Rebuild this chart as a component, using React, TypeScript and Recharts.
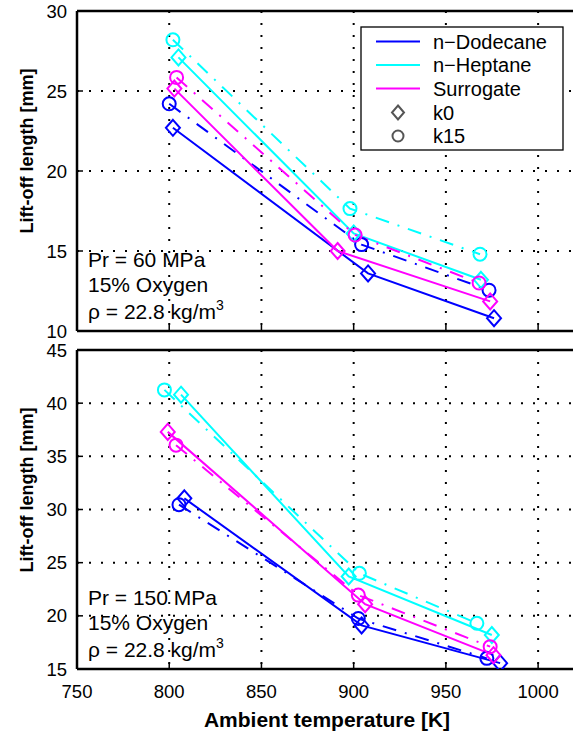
import React from "react";
import { LineChart, Line, XAxis, YAxis, CartesianGrid, ReferenceLine } from "recharts";

const FONT = '"Liberation Sans", Arial, Helvetica, sans-serif';
const BLUE = "#0000ff";
const CYAN = "#00ffff";
const MAGENTA = "#ff00ff";
const GRAY = "#555555";
const DASH_DOT = "14 9 2 9";

const xTicks = [750, 800, 850, 900, 950, 1000];
const topTicks = [10, 15, 20, 25, 30];
const bottomTicks = [15, 20, 25, 30, 35, 40, 45];

// Pr = 60 MPa
const topDodecaneK0 = [{ t: 802, mm: 22.7 }, { t: 907.8, mm: 13.6 }, { t: 976.1, mm: 10.8 }];
const topDodecaneK15 = [{ t: 800, mm: 24.2 }, { t: 904.3, mm: 15.4 }, { t: 973.4, mm: 12.55 }];
const topHeptaneK0 = [{ t: 805, mm: 27.1 }, { t: 900, mm: 16.1 }, { t: 969, mm: 13.2 }];
const topHeptaneK15 = [{ t: 802, mm: 28.2 }, { t: 898, mm: 17.65 }, { t: 968.5, mm: 14.8 }];
const topSurrogateK0 = [{ t: 802.8, mm: 25.15 }, { t: 891.3, mm: 15.0 }, { t: 974, mm: 11.85 }];
const topSurrogateK15 = [{ t: 804, mm: 25.85 }, { t: 900.8, mm: 16.0 }, { t: 968, mm: 13.0 }];

// Pr = 150 MPa
const botDodecaneK0 = [{ t: 808.2, mm: 31.05 }, { t: 904.3, mm: 19.1 }, { t: 979.4, mm: 15.55 }];
const botDodecaneK15 = [{ t: 805.3, mm: 30.45 }, { t: 902.5, mm: 19.75 }, { t: 972.2, mm: 16.0 }];
const botHeptaneK0 = [{ t: 806.4, mm: 40.8 }, { t: 897.3, mm: 23.7 }, { t: 974.9, mm: 18.2 }];
const botHeptaneK15 = [{ t: 797.4, mm: 41.25 }, { t: 903.1, mm: 24.0 }, { t: 966.8, mm: 19.3 }];
const botSurrogateK0 = [{ t: 799.2, mm: 37.3 }, { t: 906.2, mm: 21.1 }, { t: 975.8, mm: 16.3 }];
const botSurrogateK15 = [{ t: 803.7, mm: 36.05 }, { t: 902.5, mm: 21.95 }, { t: 974, mm: 17.1 }];

const legendNames = ["n\u2212Dodecane", "n\u2212Heptane", "Surrogate"];
const legendColors = [BLUE, CYAN, MAGENTA];

const diamondDot = (color: string) => (p: any) => {
  const { cx, cy, index } = p;
  return (
    <path
      key={`d-${index}`}
      d={`M${cx},${cy - 8} L${cx + 7},${cy} L${cx},${cy + 8} L${cx - 7},${cy} Z`}
      fill="none"
      stroke={color}
      strokeWidth={2}
    />
  );
};

const circleDot = (color: string) => (p: any) => {
  const { cx, cy, index } = p;
  return <circle key={`c-${index}`} cx={cx} cy={cy} r={6.5} fill="none" stroke={color} strokeWidth={2} />;
};

const seriesFor = (d0: any[], d15: any[], h0: any[], h15: any[], s0: any[], s15: any[]) => [
  { data: d0, color: BLUE, k15: false },
  { data: d15, color: BLUE, k15: true },
  { data: h0, color: CYAN, k15: false },
  { data: h15, color: CYAN, k15: true },
  { data: s0, color: MAGENTA, k15: false },
  { data: s15, color: MAGENTA, k15: true },
];

const topSeries = seriesFor(topDodecaneK0, topDodecaneK15, topHeptaneK0, topHeptaneK15, topSurrogateK0, topSurrogateK15);
const botSeries = seriesFor(botDodecaneK0, botDodecaneK15, botHeptaneK0, botHeptaneK15, botSurrogateK0, botSurrogateK15);

interface PanelProps {
  series: { data: any[]; color: string; k15: boolean }[];
  yTicks: number[];
  height: number;
  top: number;
  plotHeight: number;
  xLabels: boolean;
}

function Panel({ series, yTicks, height, top, plotHeight, xLabels }: PanelProps) {
  const yDomain = [yTicks[0], yTicks[yTicks.length - 1]];
  const tickStyle = { fill: "#000", fontSize: 18.5, fontFamily: FONT };
  return (
    <LineChart width={575} height={height} margin={{ top, right: 0, bottom: 0, left: 0 }}>
      <CartesianGrid stroke="#000" strokeWidth={2} strokeDasharray="2 10" />
      <XAxis
        type="number"
        dataKey="t"
        domain={[750, 1020]}
        ticks={xTicks}
        allowDataOverflow
        height={height - top - plotHeight}
        axisLine={{ stroke: "#000", strokeWidth: 2.5 }}
        tickLine={{ stroke: "#000", strokeWidth: 1.5 }}
        tickSize={-6}
        tickMargin={22}
        tick={tickStyle}
        tickFormatter={(v: number) => (xLabels ? String(v) : "")}
      />
      <YAxis
        type="number"
        domain={yDomain}
        ticks={yTicks}
        allowDataOverflow
        width={77}
        axisLine={{ stroke: "#000", strokeWidth: 2.5 }}
        tickLine={{ stroke: "#000", strokeWidth: 1.5 }}
        tickSize={-6}
        tickMargin={16}
        tick={tickStyle}
      />
      <ReferenceLine y={yDomain[1]} stroke="#000" strokeWidth={2.5} />
      {series.map((s, i) => (
        <Line
          key={i}
          data={s.data}
          dataKey="mm"
          stroke={s.color}
          strokeWidth={2}
          strokeDasharray={s.k15 ? DASH_DOT : undefined}
          dot={s.k15 ? circleDot(s.color) : diamondDot(s.color)}
          activeDot={false}
          isAnimationActive={false}
        />
      ))}
    </LineChart>
  );
}

function Conditions({ pr, y }: { pr: string; y: number[] }) {
  return (
    <g fontFamily={FONT} fontSize={21} fill="#000">
      <text x={88} y={y[0]}>{`Pr = ${pr} MPa`}</text>
      <text x={88} y={y[1]}>15% Oxygen</text>
      <text x={88} y={y[2]}>
        {"\u03c1 = 22.8 kg/m"}
        <tspan dy={-9} fontSize={14}>3</tspan>
      </text>
    </g>
  );
}

export default function App() {
  const rows = [41.5, 65, 88.5, 112.5, 136];
  return (
    <div style={{ position: "absolute", left: 0, top: 0, width: 573, height: 734, overflow: "hidden", background: "#fff" }}>
      <div style={{ position: "absolute", left: 0, top: 0 }}>
        <Panel series={topSeries} yTicks={topTicks} height={345} top={11} plotHeight={320} xLabels={false} />
      </div>
      <div style={{ position: "absolute", left: 0, top: 340 }}>
        <Panel series={botSeries} yTicks={bottomTicks} height={394} top={10} plotHeight={319} xLabels />
      </div>
      <svg width={573} height={734} style={{ position: "absolute", left: 0, top: 0, pointerEvents: "none" }}>
        <rect x={361} y={27} width={202} height={123} fill="#fff" stroke="#000" strokeWidth={1.3} />
        {legendNames.map((n, i) => (
          <g key={n}>
            <line x1={376} x2={420} y1={rows[i]} y2={rows[i]} stroke={legendColors[i]} strokeWidth={2} />
            <text x={433} y={rows[i] + 7} fontFamily={FONT} fontSize={20} fill="#000">{n}</text>
          </g>
        ))}
        <path
          d={`M398,${rows[3] - 7} L404,${rows[3]} L398,${rows[3] + 7} L392,${rows[3]} Z`}
          fill="none"
          stroke={GRAY}
          strokeWidth={2}
        />
        <text x={433} y={rows[3] + 7} fontFamily={FONT} fontSize={20} fill="#000">k0</text>
        <circle cx={398} cy={rows[4]} r={5.5} fill="none" stroke={GRAY} strokeWidth={2} />
        <text x={433} y={rows[4] + 7} fontFamily={FONT} fontSize={20} fill="#000">k15</text>

        <Conditions pr="60" y={[267, 292, 319]} />
        <Conditions pr="150" y={[605, 630, 657]} />

        <g fontFamily={FONT} fontSize={18} fontWeight="bold" fill="#000">
          <text transform="translate(33,151) rotate(-90)" textAnchor="middle">Lift-off length [mm]</text>
          <text transform="translate(33,490) rotate(-90)" textAnchor="middle">Lift-off length [mm]</text>
          <text x={327} y={727} textAnchor="middle" fontSize={21}>Ambient temperature [K]</text>
        </g>
      </svg>
    </div>
  );
}
